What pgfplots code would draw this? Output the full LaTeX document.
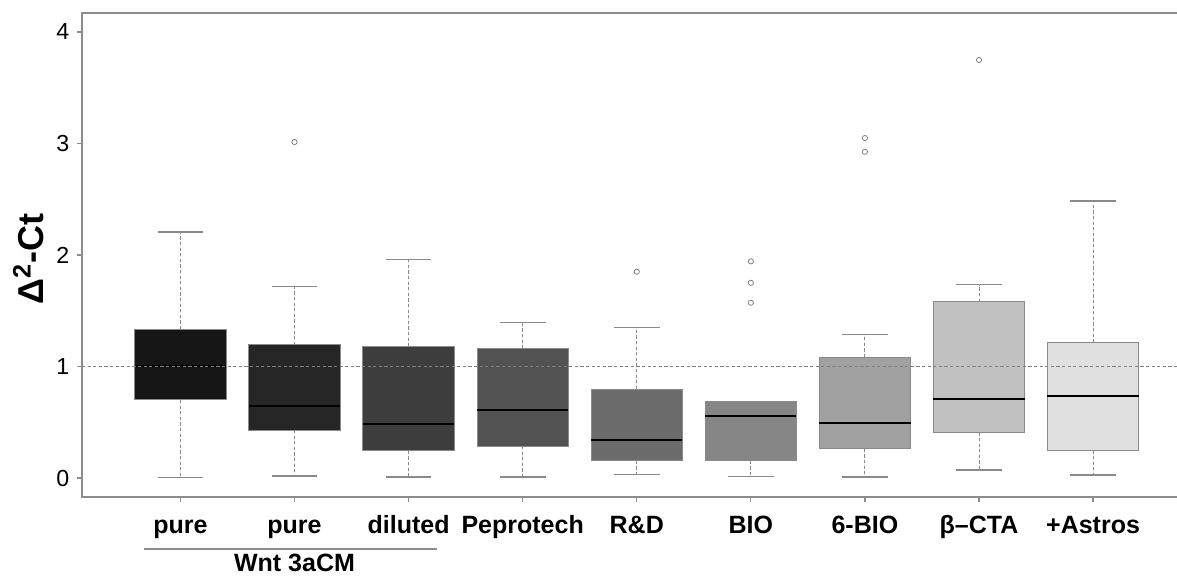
\documentclass[border=0pt]{standalone}
\usepackage{pgfplots}
\pgfplotsset{compat=1.18}
\usepgfplotslibrary{statistics}
\usepackage{fontspec}
\setmainfont{Liberation Sans}
\definecolor{framegray}{HTML}{8C8C8C}
\definecolor{wgray}{HTML}{8A8A8A}
\definecolor{c1}{HTML}{161616}
\definecolor{c2}{HTML}{262626}
\definecolor{c3}{HTML}{3D3D3D}
\definecolor{c4}{HTML}{525252}
\definecolor{c5}{HTML}{6C6C6C}
\definecolor{c6}{HTML}{868686}
\definecolor{c7}{HTML}{A1A1A1}
\definecolor{c8}{HTML}{C1C1C1}
\definecolor{c9}{HTML}{E0E0E0}
\begin{document}
\begin{tikzpicture}
\begin{axis}[
  scale only axis,
  width=549pt, height=242pt,
  xmin=0.137, xmax=9.762,
  ymin=-0.170, ymax=4.17,
  clip=false,
  axis line style={framegray, line width=0.6pt},
  tick style={framegray, line width=0.6pt},
  tick align=outside,
  major tick length=2.5pt,
  xtick pos=lower, ytick pos=lower,
  xtick={1,2,3,4,5,6,7,8,9},
  xticklabels={pure,pure,diluted,Peprotech,R\&D,BIO,6-BIO,β–CTA,+Astros},
  xticklabel style={font=\fontsize{12.5}{14}\selectfont\bfseries, anchor=north, text height=9pt, text depth=2.5pt, yshift=-3pt},
  ytick={0,1,2,3,4},
  yticklabel style={font=\fontsize{11.6}{13}\selectfont, inner sep=0pt, xshift=-3.6pt},
  /pgf/number format/assume math mode=true,
  ylabel={\bfseries Δ\textsuperscript{2}-Ct},
  ylabel style={font=\fontsize{18}{20}\selectfont, at={(rel axis cs:-0.049,0.5)}, anchor=center, xshift=-2pt},
  boxplot/draw direction=y,
  boxplot/box extend=0.8,
  boxplot/whisker extend=0.4,
  boxplot/every median/.style={black, line width=1.1pt},
  boxplot/every box/.style={draw=wgray, line width=0.5pt},
  boxplot/draw/lower whisker/.code={%
    \draw[wgray, line width=0.5pt, dash pattern=on 1.6pt off 1.2pt]
      (boxplot cs:\pgfplotsboxplotvalue{lower quartile}) -- (boxplot cs:\pgfplotsboxplotvalue{lower whisker});
    \draw[wgray, line width=0.6pt]
      (boxplot whisker cs:\pgfplotsboxplotvalue{lower whisker},0) -- (boxplot whisker cs:\pgfplotsboxplotvalue{lower whisker},1);
  },
  boxplot/draw/upper whisker/.code={%
    \draw[wgray, line width=0.5pt, dash pattern=on 1.6pt off 1.2pt]
      (boxplot cs:\pgfplotsboxplotvalue{upper quartile}) -- (boxplot cs:\pgfplotsboxplotvalue{upper whisker});
    \draw[wgray, line width=0.6pt]
      (boxplot whisker cs:\pgfplotsboxplotvalue{upper whisker},0) -- (boxplot whisker cs:\pgfplotsboxplotvalue{upper whisker},1);
  },
  every axis plot/.append style={mark=o, mark size=1.3pt, mark options={draw=gray, line width=0.4pt, solid}},
]
\addplot[fill=c1, boxplot prepared={draw position=1, lower whisker=0.006, lower quartile=0.700, median=1.007, upper quartile=1.334, upper whisker=2.206}] coordinates {};
\addplot[fill=c2, boxplot prepared={draw position=2, lower whisker=0.018, lower quartile=0.430, median=0.646, upper quartile=1.193, upper whisker=1.716}] coordinates {(0,3.013)};
\addplot[fill=c3, boxplot prepared={draw position=3, lower whisker=0.009, lower quartile=0.245, median=0.482, upper quartile=1.181, upper whisker=1.961}] coordinates {};
\addplot[fill=c4, boxplot prepared={draw position=4, lower whisker=0.009, lower quartile=0.287, median=0.610, upper quartile=1.163, upper whisker=1.396}] coordinates {};
\addplot[fill=c5, boxplot prepared={draw position=5, lower whisker=0.030, lower quartile=0.155, median=0.343, upper quartile=0.798, upper whisker=1.352}] coordinates {(0,1.850)};
\addplot[fill=c6, boxplot prepared={draw position=6, lower whisker=0.015, lower quartile=0.155, median=0.556, upper quartile=0.688, upper whisker=0.688}] coordinates {(0,1.943) (0,1.751) (0,1.572)};
\addplot[fill=c7, boxplot prepared={draw position=7, lower whisker=0.009, lower quartile=0.263, median=0.496, upper quartile=1.083, upper whisker=1.289}] coordinates {(0,3.049) (0,2.926)};
\addplot[fill=c8, boxplot prepared={draw position=8, lower whisker=0.072, lower quartile=0.410, median=0.711, upper quartile=1.581, upper whisker=1.734}] coordinates {(0,3.749)};
\addplot[fill=c9, boxplot prepared={draw position=9, lower whisker=0.027, lower quartile=0.248, median=0.735, upper quartile=1.217, upper whisker=2.484}] coordinates {};
\addplot[gray, dash pattern=on 1.6pt off 1.2pt, line width=0.5pt, no marks] coordinates {(0.137,1) (9.762,1)};
\draw[framegray, line width=0.6pt] (axis cs:0.68,-0.637) -- (axis cs:3.248,-0.637);
\node[font=\fontsize{12.5}{14}\selectfont\bfseries] at (axis cs:2,-0.762) {Wnt 3aCM};
\coordinate (ll) at (rel axis cs:0,0);
\coordinate (ur) at (rel axis cs:1,1);
\end{axis}
\pgfresetboundingbox
\path (ll) ++(-41pt,-40.5pt) coordinate (bl);
\path (ll) ++(547.5pt,0pt) coordinate (br);
\path (bl) rectangle (br |- ur) ++(0,6.5pt);
\end{tikzpicture}
\end{document}
